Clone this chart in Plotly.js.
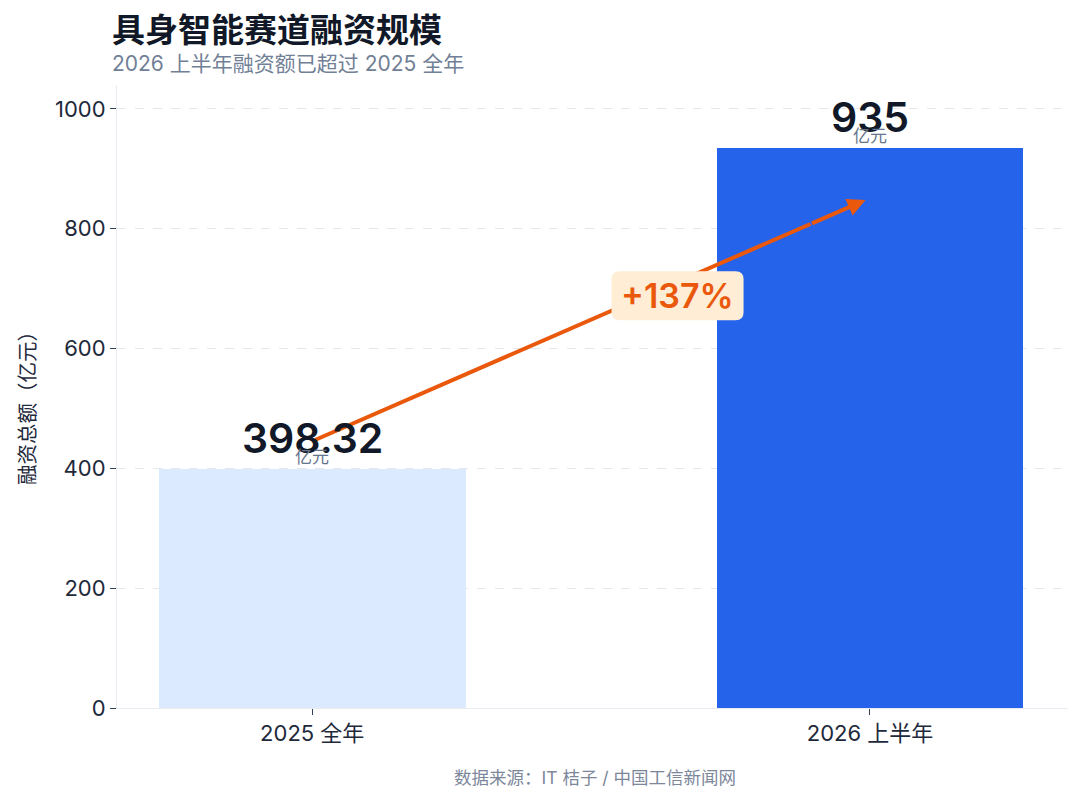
<!DOCTYPE html>
<html><head><meta charset="utf-8">
<script src="https://cdn.plot.ly/plotly-3.0.1.min.js"></script>
<style>html,body{margin:0;padding:0;background:#fff}#chart{width:1080px;height:800px}</style>
</head><body><div id="chart"></div>
<script>
const categories = ['2025 全年', '2026 上半年'];
const values = [398.32, 935];
const valueLabels = ['398.32', '935'];
const unitLabel = '亿元';
const growthLabel = '+137%';
const barColors = ['#DBEAFE', '#2563EB'];
const yTicks = [0, 200, 400, 600, 800, 1000];
const titleText = '具身智能赛道融资规模';
const subtitleText = '2026 上半年融资额已超过 2025 全年';
const yTitleText = '融资总额（亿元）';
const sourceText = '数据来源：IT 桔子 / 中国工信新闻网';

const FONT = 'Inter, "Noto Sans CJK SC", sans-serif';
const ORANGE = '#EA580C';

// plot area geometry (pixels)
const L = 117, R = 12, T = 85, B = 92, W = 1080, H = 800;
const PW = W - L - R, PH = H - T - B;
const px = x => (x - L) / PW;
const py = y => (H - B - y) / PH;

const trace = {
  type: 'bar',
  x: [0, 1],
  y: values,
  width: 0.55,
  marker: {color: barColors, line: {width: 0}},
  hoverinfo: 'skip'
};

// arrow from first bar to second bar
const a0 = {x: 0.005, y: values[0] + 49};
const a1 = {x: 0.992, y: values[1] - 87};
const lerp = t => ({x: a0.x + (a1.x - a0.x) * t, y: a0.y + (a1.y - a0.y) * t});
const headTail = lerp(0.9);
const labelPos = {x: 0.655, y: 688};

const shapes = [
  {type: 'line', xref: 'x', yref: 'y', x0: a0.x, y0: a0.y, x1: headTail.x, y1: headTail.y,
   line: {color: ORANGE, width: 4}, layer: 'above'},
  {type: 'path', xref: 'x', yref: 'y', xsizemode: 'pixel', ysizemode: 'pixel',
   xanchor: labelPos.x, yanchor: labelPos.y, layer: 'above',
   path: 'M -58 -24.5 L 58 -24.5 Q 66 -24.5 66 -16.5 L 66 16.5 Q 66 24.5 58 24.5 L -58 24.5 Q -66 24.5 -66 16.5 L -66 -16.5 Q -66 -24.5 -58 -24.5 Z',
   fillcolor: '#FFEDD5', line: {width: 0}}
];

const annotations = [];
values.forEach((v, i) => {
  annotations.push({x: i, y: v + 52, xref: 'x', yref: 'y', text: valueLabels[i], showarrow: false,
    font: {family: FONT, size: 41, color: '#111827', weight: 600}});
  annotations.push({x: i, y: v + 20, xref: 'x', yref: 'y', text: unitLabel, showarrow: false,
    font: {family: FONT, size: 17, color: '#64748B'}});
});
annotations.push({x: a1.x, y: a1.y, xref: 'x', yref: 'y', ax: headTail.x, ay: headTail.y, axref: 'x', ayref: 'y',
  text: '', showarrow: true, arrowhead: 2, arrowsize: 0.9, arrowwidth: 4, arrowcolor: ORANGE, standoff: 0, startstandoff: 0});
annotations.push({x: labelPos.x, y: labelPos.y, xref: 'x', yref: 'y', text: growthLabel, showarrow: false,
  font: {family: FONT, size: 34, color: ORANGE, weight: 600}});
annotations.push({x: px(110), y: py(30), xref: 'paper', yref: 'paper', xanchor: 'left', yanchor: 'middle',
  text: '<b>' + titleText + '</b>', showarrow: false, font: {family: FONT, size: 33, color: '#111827'}});
annotations.push({x: px(110), y: py(64), xref: 'paper', yref: 'paper', xanchor: 'left', yanchor: 'middle',
  text: subtitleText, showarrow: false, font: {family: FONT, size: 21, color: '#718096'}});
annotations.push({x: px(595), y: py(777), xref: 'paper', yref: 'paper', xanchor: 'center', yanchor: 'middle',
  text: sourceText, showarrow: false, font: {family: FONT, size: 17.5, color: '#7C879B'}});
annotations.push({x: px(27), y: py(403), xref: 'paper', yref: 'paper', xanchor: 'center', yanchor: 'middle',
  text: yTitleText, textangle: -90, showarrow: false, font: {family: FONT, size: 20.5, color: '#1E293B'}});

const layout = {
  width: W, height: H,
  margin: {l: L, r: R, t: T, b: B},
  paper_bgcolor: '#ffffff', plot_bgcolor: '#ffffff',
  font: {family: FONT, color: '#1E293B'},
  showlegend: false,
  bargap: 0,
  xaxis: {
    range: [-0.35, 1.355], tickvals: [0, 1], ticktext: categories,
    ticks: 'outside', ticklen: 6, tickcolor: '#334155', tickwidth: 1,
    showline: true, linecolor: '#E8ECF2', linewidth: 1,
    showgrid: false, zeroline: false,
    tickfont: {family: FONT, size: 22, color: '#1E293B'}
  },
  yaxis: {
    range: [0, 1040], tickvals: yTicks,
    ticks: 'outside', ticklen: 6, tickcolor: '#334155', tickwidth: 1,
    showline: true, linecolor: '#E8ECF2', linewidth: 1,
    showgrid: true, gridcolor: '#E5E7EB', griddash: 'dash', gridwidth: 1,
    zeroline: false,
    tickfont: {family: FONT, size: 22, color: '#1E293B'}
  },
  shapes: shapes,
  annotations: annotations
};

Plotly.newPlot('chart', [trace], layout, {displayModeBar: false, staticPlot: true});
</script></body></html>
